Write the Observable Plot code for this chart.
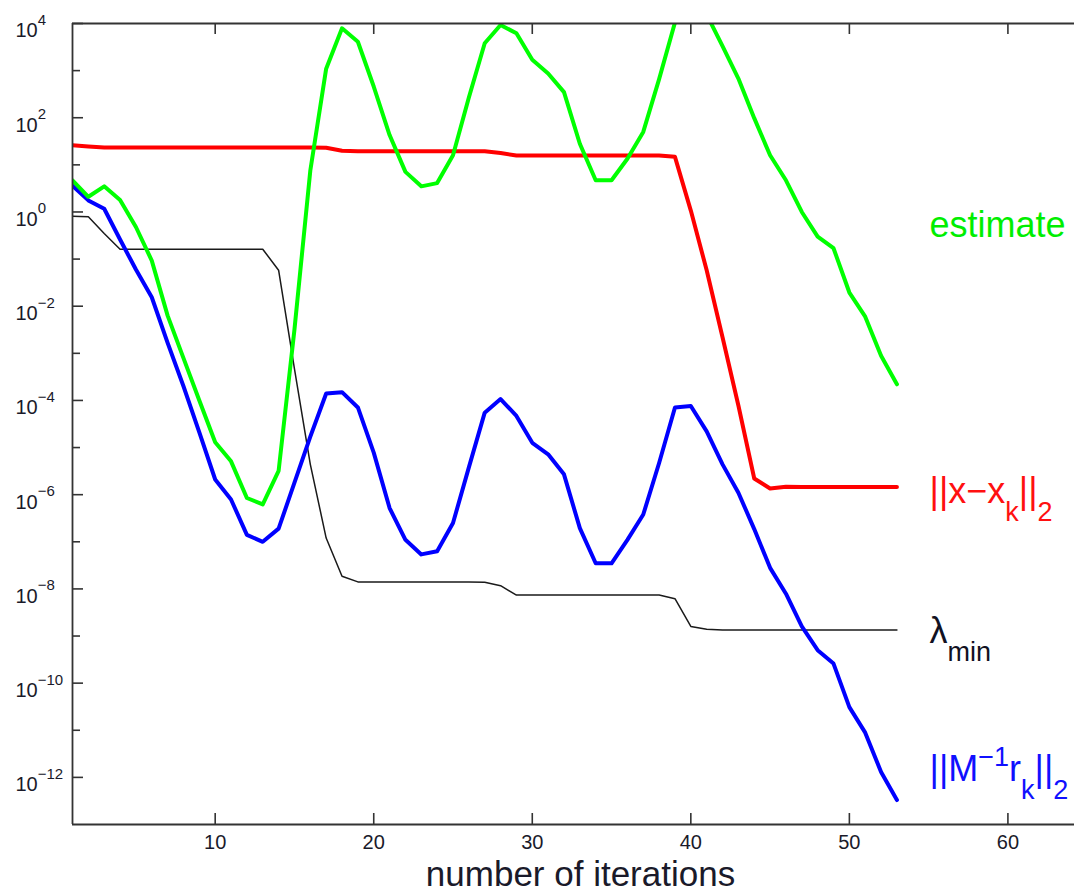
<!DOCTYPE html>
<html>
<head>
<meta charset="utf-8">
<script src="https://cdn.jsdelivr.net/npm/d3@7"></script>
<script src="https://cdn.jsdelivr.net/npm/@observablehq/plot@0.6"></script>
<style>
  body { margin: 0; background: #fff; }
  svg { display: block; }
</style>
</head>
<body>
<div id="chart"></div>
<script>
// ---------- data ----------
const iterations = [1,2,3,4,5,6,7,8,9,10,11,12,13,14,15,16,17,18,19,20,21,22,23,24,25,26,27,28,29,30,31,32,33,34,35,36,37,38,39,40,41,42,43,44,45,46,47,48,49,50,51,52,53];

const estimate = [4.7, 2.1, 3.5, 1.8, 0.48, 0.093, 6.3e-3, 7.9e-4, 1.0e-4, 1.3e-5,
  5.1e-6, 8.5e-7, 6.2e-7, 3.2e-6, 3.2e-3, 7.6, 1.1e3, 7.9e3, 4.1e3, 4.6e2,
  43, 7.1, 3.5, 4.1, 16, 2.7e2, 3.8e3, 9.3e3, 6.2e3, 1.7e3,
  8.7e2, 3.5e2, 28, 4.7, 4.7, 13.5, 50, 6.6e2, 1.05e4, 4.0e4,
  1.55e4, 3.3e3, 6.8e2, 98, 16, 4.7, 1.0, 0.30, 0.17, 0.0195,
  6.0e-3, 8.9e-4, 2.2e-4];

const errorNorm = [26, 24.5, 23.4, 23.4, 23.4, 23.4, 23.4, 23.4, 23.4, 23.4,
  23.4, 23.4, 23.4, 23.4, 23.4, 23.4, 23, 20, 19.5, 19.5,
  19.5, 19.5, 19.5, 19.5, 19.5, 19.5, 19.5, 17.8, 15.8, 15.8,
  15.8, 15.8, 15.8, 15.8, 15.8, 15.8, 15.8, 15.8, 14.8, 1.07,
  0.058, 2.2e-3, 7.8e-5, 2.2e-6, 1.35e-6, 1.48e-6, 1.45e-6, 1.45e-6, 1.45e-6, 1.45e-6,
  1.45e-6, 1.45e-6, 1.45e-6];

const lambdaMin = [0.81, 0.79, 0.35, 0.162, 0.162, 0.162, 0.162, 0.162, 0.162, 0.162,
  0.162, 0.162, 0.162, 0.058, 4.7e-4, 4.4e-6, 1.2e-7, 1.86e-8, 1.41e-8, 1.41e-8,
  1.41e-8, 1.41e-8, 1.41e-8, 1.41e-8, 1.41e-8, 1.41e-8, 1.38e-8, 1.17e-8, 7.4e-9, 7.4e-9,
  7.4e-9, 7.4e-9, 7.4e-9, 7.4e-9, 7.4e-9, 7.4e-9, 7.4e-9, 7.4e-9, 6.2e-9, 1.6e-9,
  1.4e-9, 1.35e-9, 1.35e-9, 1.35e-9, 1.35e-9, 1.35e-9, 1.35e-9, 1.35e-9, 1.35e-9, 1.35e-9,
  1.35e-9, 1.35e-9, 1.35e-9];

const residualNorm = [3.6, 1.76, 1.17, 0.26, 0.060, 0.0155, 1.66e-3, 2.0e-4, 2.1e-5, 2.1e-6,
  7.9e-7, 1.4e-7, 1.0e-7, 1.9e-7, 1.8e-6, 1.7e-5, 1.4e-4, 1.5e-4, 7.1e-5, 7.8e-6,
  5.2e-7, 1.1e-7, 5.4e-8, 6.3e-8, 2.5e-7, 3.8e-6, 5.5e-5, 1.07e-4, 4.7e-5, 1.26e-5,
  7.2e-6, 2.7e-6, 1.95e-7, 3.5e-8, 3.5e-8, 1.1e-7, 3.8e-7, 4.7e-6, 7.1e-5, 7.6e-5,
  2.2e-5, 4.4e-6, 1.1e-6, 1.86e-7, 2.8e-8, 7.9e-9, 1.6e-9, 5.0e-10, 2.6e-10, 3.1e-11,
  8.9e-12, 1.3e-12, 3.3e-13];

const xTicks = [10, 20, 30, 40, 50, 60];
const yMajorTicks = [1e4, 1e2, 1e0, 1e-2, 1e-4, 1e-6, 1e-8, 1e-10, 1e-12];
const yMajorExponents = ["4", "2", "0", "\u22122", "\u22124", "\u22126", "\u22128", "\u221210", "\u221212"];
const yMinorTicks = [1e3, 1e1, 1e-1, 1e-3, 1e-5, 1e-7, 1e-9, 1e-11];

const xLabel = "number of iterations";

// ---------- layout ----------
const W = 1074, H = 893;
const mL = 72, mR = 0, mT = 23, mB = 69;
const frameW = W - mL - mR, frameH = H - mT - mB;

const seriesDefs = [
  {values: lambdaMin, color: "#1a1a1a", width: 1.5},
  {values: errorNorm, color: "#ff0000", width: 4},
  {values: residualNorm, color: "#0000ff", width: 4},
  {values: estimate, color: "#00ff00", width: 4}
];

const seriesLabels = [
  {x: 55.06, y: 0.516, color: "#00ee00", parts: [["estimate", "n"]]},
  {x: 55.06, y: 1.19e-6, color: "#ff1010", parts: [["||x\u2212x", "n"], ["k", "sub"], ["||", "n"], ["2", "sub"]]},
  {x: 55.06, y: 1.25e-9, color: "#111122", parts: [["\u03bb", "n"], ["min", "sub"]]},
  {x: 55.06, y: 1.44e-12, color: "#1010ff", parts: [["||M", "n"], ["\u22121", "sup"], ["r", "n"], ["k", "sub"], ["||", "n"], ["2", "sub"]]}
];

const axisColor = "#333";

const marks = [];
// series lines
for (const s of seriesDefs) {
  const rows = iterations.map((it, i) => ({it, v: s.values[i]}));
  marks.push(Plot.line(rows, {x: "it", y: "v", stroke: s.color, strokeWidth: s.width, clip: true, strokeLinejoin: "round"}));
}
// frame lines (left, top, bottom)
marks.push(Plot.ruleX([1], {stroke: axisColor, strokeWidth: 1.8}));
marks.push(Plot.ruleY([1e4, 1e-13], {stroke: axisColor, strokeWidth: 1.8}));
// inward ticks
marks.push(Plot.tickX(xTicks, {x: d => d, insetTop: frameH - 11, stroke: axisColor, strokeWidth: 1.6}));
marks.push(Plot.tickX(xTicks, {x: d => d, insetBottom: frameH - 11, stroke: axisColor, strokeWidth: 1.6}));
marks.push(Plot.tickY(yMajorTicks, {y: d => d, insetRight: frameW - 11, stroke: axisColor, strokeWidth: 1.6}));
marks.push(Plot.tickY(yMinorTicks, {y: d => d, insetRight: frameW - 8, stroke: axisColor, strokeWidth: 1.6}));
// y tick labels (rich text, group 0)
marks.push(Plot.text(yMajorTicks, {y: d => d, frameAnchor: "left", dx: -57, text: (d, i) => "10^" + yMajorExponents[i], textAnchor: "start", lineAnchor: "middle", fontSize: 20, fill: "#1a1a2a"}));
// series labels (groups 1..4)
for (const l of seriesLabels) {
  marks.push(Plot.text([l], {x: "x", y: "y", text: d => d.parts.map(p => p[0]).join(""), textAnchor: "start", lineAnchor: "middle", fontSize: 36, fill: l.color}));
}
// x tick labels
marks.push(Plot.text(xTicks, {x: d => d, frameAnchor: "bottom", lineAnchor: "middle", dy: 18, text: d => String(d), fontSize: 20, fill: "#1a1a2a"}));
// x axis title
marks.push(Plot.text([xLabel], {frameAnchor: "bottom", lineAnchor: "middle", dx: 7, dy: 50, text: d => d, fontSize: 35, fill: "#1a1a2a"}));

const chart = Plot.plot({
  width: W,
  height: H,
  marginLeft: mL, marginRight: mR, marginTop: mT, marginBottom: mB,
  style: {fontFamily: "'Liberation Sans', Arial, Helvetica, sans-serif", background: "#fff", overflow: "visible"},
  x: {domain: [1, 64.2], axis: null},
  y: {type: "log", domain: [1e-13, 1e4], axis: null},
  marks
});

document.getElementById("chart").appendChild(chart);

// ---------- rich text (super/subscripts) ----------
const SVGNS = "http://www.w3.org/2000/svg";
function richText(el, parts, {base, small, sup, sub, baseline}) {
  el.removeAttribute("dy");
  while (el.firstChild) el.removeChild(el.firstChild);
  let cur = 0;
  parts.forEach(([t, role]) => {
    const target = baseline + (role === "sup" ? -sup : role === "sub" ? sub : 0);
    const ts = document.createElementNS(SVGNS, "tspan");
    ts.setAttribute("dy", target - cur);
    cur = target;
    ts.setAttribute("font-size", role === "n" ? base : small);
    ts.textContent = t;
    el.appendChild(ts);
  });
}
const textGroups = chart.querySelectorAll('g[aria-label="text"]');
textGroups[0].querySelectorAll("text").forEach((el, i) => {
  richText(el, [["10", "n"], [yMajorExponents[i], "sup"]], {base: 20, small: 15, sup: 12.5, sub: 0, baseline: 7.5});
});
seriesLabels.forEach((l, k) => {
  const el = textGroups[k + 1].querySelector("text");
  richText(el, l.parts, {base: 36, small: 27, sup: 15, sub: 18, baseline: 0});
});
</script>
</body>
</html>
